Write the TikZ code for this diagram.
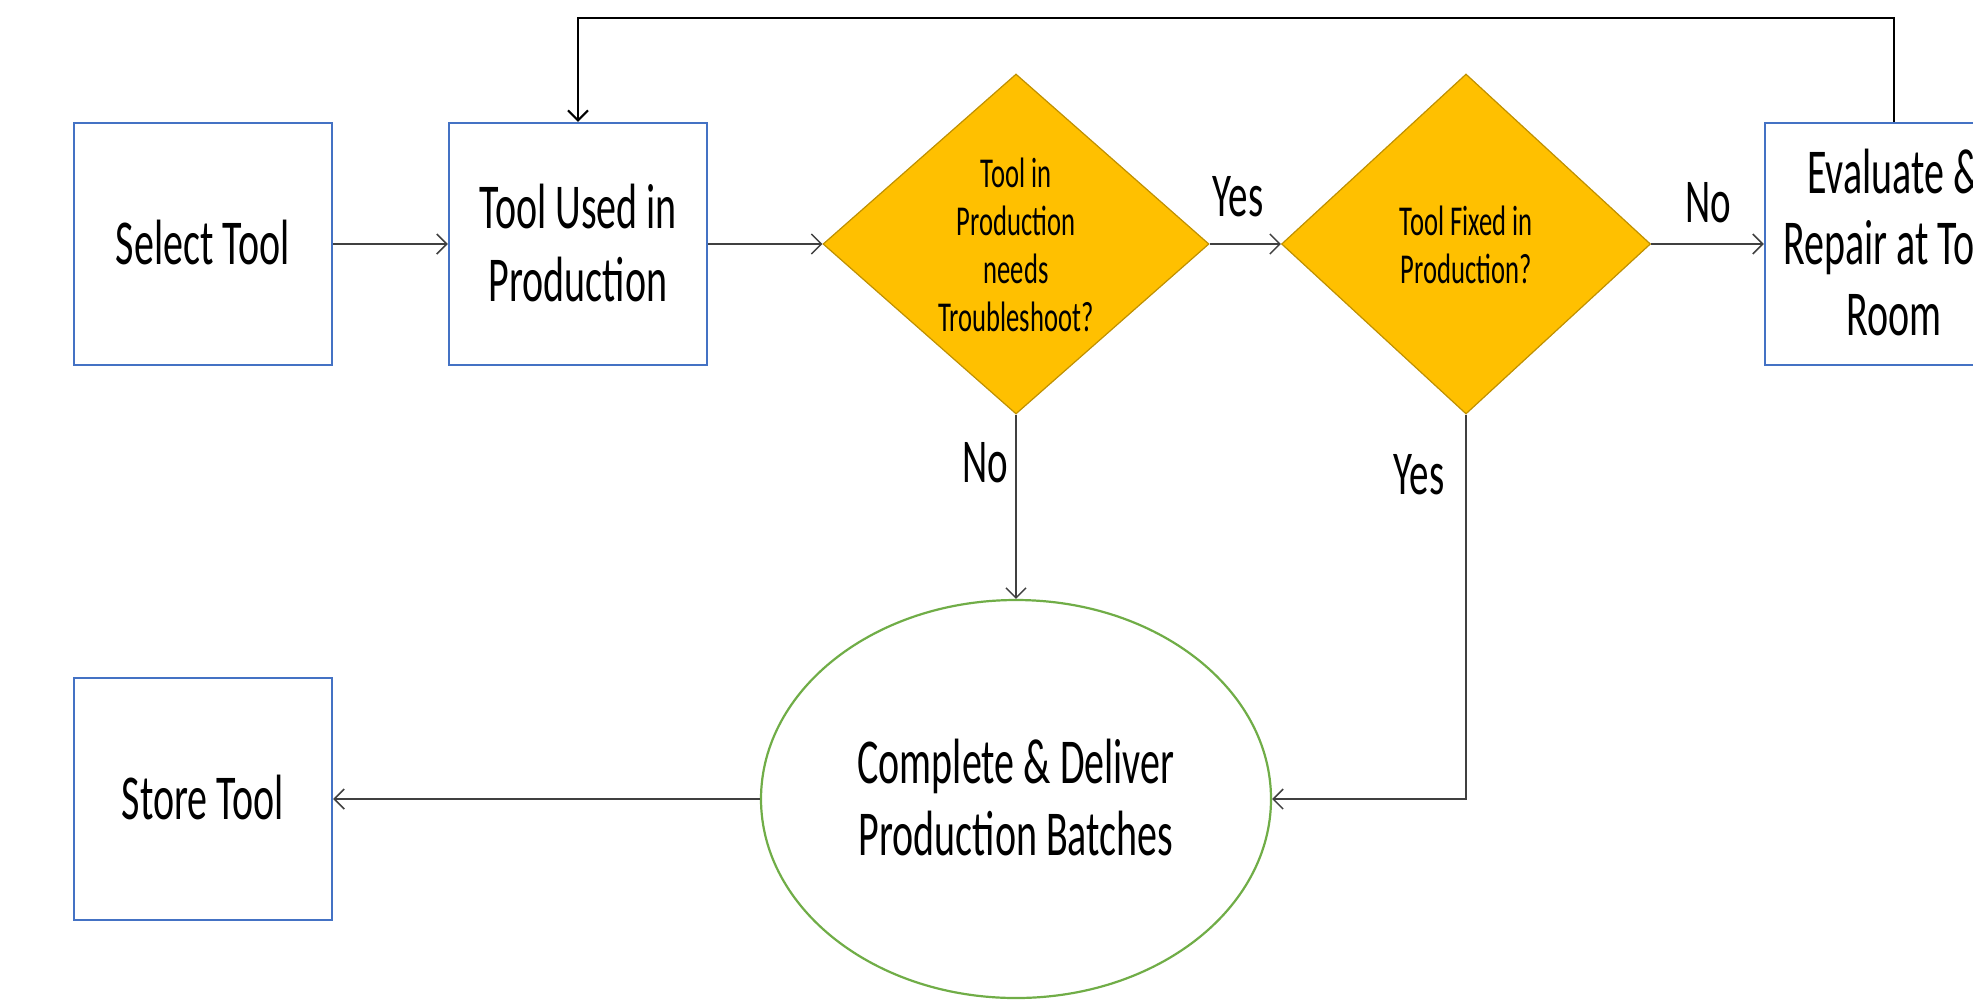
\documentclass[tikz,border=0pt]{standalone}
\usepackage{fontspec}
\setmainfont{Carlito}
\usetikzlibrary{shapes.geometric,arrows.meta}
\definecolor{boxblue}{HTML}{4472C4}
\definecolor{decfill}{HTML}{FFC000}
\definecolor{decline}{HTML}{BF9000}
\definecolor{endgreen}{HTML}{70AD47}
\definecolor{wire}{HTML}{404040}
% tall, narrow lettering: font size, line spacing, lines (set a little low in its node)
\newcommand\stretchtext[3]{\raisebox{-3pt}[\height][\depth]{\scalebox{1}[1.6]{\fontsize{#1}{#2}\selectfont\begin{tabular}{@{}c@{}}#3\end{tabular}}}}
\begin{document}
\begin{tikzpicture}[x=0.5pt,y=-0.5pt,
  procbox/.style={draw=boxblue,line width=1.2pt,fill=white,minimum width=129pt,minimum height=121pt,inner sep=0pt},
  decision/.style={diamond,draw=decline,line width=0.6pt,fill=decfill,minimum height=170pt,inner sep=0pt},
  endpoint/.style={ellipse,draw=endgreen,line width=1.1pt,fill=white,minimum width=255pt,minimum height=199pt,inner sep=0pt},
  flow/.style={draw=wire,line width=0.75pt,-{Straight Barb[length=5pt,width=10pt]}},
  feedback/.style={draw=black,line width=1pt,-{Straight Barb[length=5pt,width=10pt]}},
  answer/.style={inner sep=0pt}]
\useasboundingbox (0,0) rectangle (1973,1002);
\clip (0,0) rectangle (1973,1002);

% process steps
\node[procbox] (sel) at (203,244) {\stretchtext{20}{22.8}{Select Tool}};
\node[procbox] (use) at (578,244) {\stretchtext{20}{22.8}{Tool Used in\\Production}};
\node[procbox] (eval) at (1894,244) {\stretchtext{20}{22.2}{Evaluate \&\\Repair at Tool\\Room}};
\node[procbox] (store) at (203,799) {\stretchtext{20}{22.8}{Store Tool}};

% decisions
\node[decision,minimum width=193pt] (d1) at (1016,244) {};
\node[answer] (t1) at (d1) {\stretchtext{13.3}{15}{Tool in\\Production\\needs\\Troubleshoot?}};
\node[decision,minimum width=184.5pt] (d2) at (1466,244) {};
\node[answer] (t2) at (d2) {\stretchtext{13.3}{15}{Tool Fixed in\\Production?}};

% terminal step
\node[endpoint] (ell) at (1016,799) {\stretchtext{20}{22.5}{Complete \& Deliver\\Production Batches}};

% branch labels
\node[answer] (yes1) at (1238,198) {\stretchtext{19.5}{20}{Yes}};
\node[answer] (no1) at (1708,204) {\stretchtext{19.5}{20}{No}};
\node[answer] (no2) at (985,464) {\stretchtext{19.5}{20}{No}};
\node[answer] (yes2) at (1419,476) {\stretchtext{19.5}{20}{Yes}};

% connectors
\draw[flow] (sel.east) -- (use.west);
\draw[flow] (use.east) -- (d1.west);
\draw[flow] (d1.east) -- (d2.west);
\draw[flow] (d2.east) -- (eval.west);
\draw[flow] (d1.south) -- (ell.north);
\draw[flow] (d2.south) |- (ell.east);
\draw[flow] (ell.west) -- (store.east);
\coordinate (loop) at (1200,18);
\draw[feedback] (eval.north) |- (loop) -| (use.north);
\end{tikzpicture}
\end{document}
